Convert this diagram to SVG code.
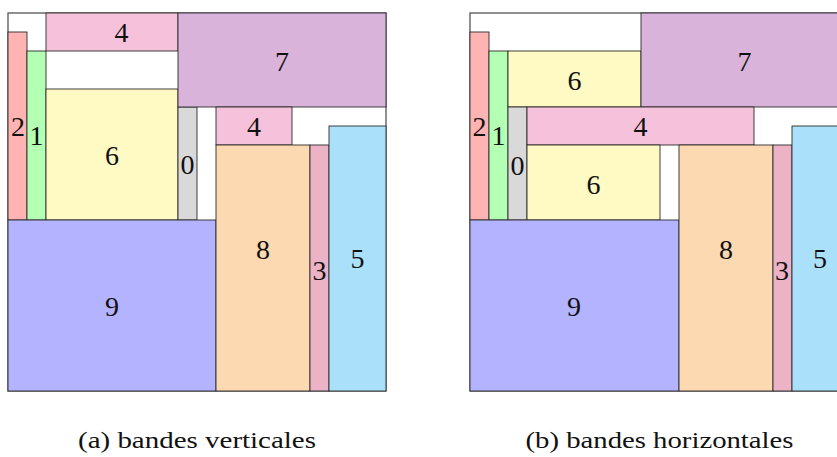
<svg xmlns="http://www.w3.org/2000/svg" width="837" height="457" viewBox="0 0 837 457">
<style>
rect{stroke:#2a2a2a;stroke-width:0.9}
.frame{fill:#fff;stroke:#555;stroke-width:1.3}
text{font-family:"Liberation Serif","Times New Roman",serif;font-size:28px;fill:#111;text-anchor:middle}
.cap{font-size:24px}
.c0{fill:#D9D9D9}.c1{fill:#B3FFB3}.c2{fill:#FFB3B3}.c3{fill:#ECB3C6}.c4{fill:#F6C1DB}
.c5{fill:#ABE0FA}.c6{fill:#FFF9C3}.c7{fill:#D9B3D9}.c8{fill:#FCD9B1}.c9{fill:#B3B3FF}
</style>
<g id="panel-a">
<rect class="frame" x="8" y="13" width="378" height="378"/>
<g id="a-2"><rect class="c2" x="8" y="32" width="19" height="188"/><text x="18" y="135.5">2</text></g>
<g id="a-1"><rect class="c1" x="27" y="51" width="19" height="169"/><text x="36.5" y="144.5">1</text></g>
<g id="a-4top"><rect class="c4" x="46" y="13" width="132" height="38"/><text x="121.5" y="41.5">4</text></g>
<g id="a-6"><rect class="c6" x="46" y="89" width="132" height="131"/><text x="112" y="164.5">6</text></g>
<g id="a-0"><rect class="c0" x="178" y="107" width="19" height="113"/><text x="187.5" y="173.5">0</text></g>
<g id="a-7"><rect class="c7" x="178" y="13" width="208" height="94"/><text x="282" y="70.5">7</text></g>
<g id="a-4"><rect class="c4" x="216" y="107" width="76" height="38"/><text x="254" y="136">4</text></g>
<g id="a-9"><rect class="c9" x="8" y="220" width="208" height="171"/><text x="112" y="316">9</text></g>
<g id="a-8"><rect class="c8" x="216" y="145" width="94" height="246"/><text x="263" y="258.5">8</text></g>
<g id="a-3"><rect class="c3" x="310" y="145" width="19" height="246"/><text x="319.5" y="279.5">3</text></g>
<g id="a-5"><rect class="c5" x="329" y="126" width="57" height="265"/><text x="357.5" y="267.5">5</text></g>
<text id="cap-a" class="cap" x="197" y="448" textLength="238" lengthAdjust="spacingAndGlyphs">(a) bandes verticales</text>
</g>
<g id="panel-b">
<rect class="frame" x="470" y="13" width="378" height="378"/>
<g id="b-2"><rect class="c2" x="470" y="32" width="19" height="188"/><text x="479.5" y="135.5">2</text></g>
<g id="b-1"><rect class="c1" x="489" y="51" width="19" height="169"/><text x="498.5" y="144.5">1</text></g>
<g id="b-6top"><rect class="c6" x="508" y="51" width="133" height="56"/><text x="574.5" y="89.5">6</text></g>
<g id="b-7"><rect class="c7" x="641" y="13" width="207" height="94"/><text x="744.5" y="70.5">7</text></g>
<g id="b-0"><rect class="c0" x="508" y="107" width="19" height="113"/><text x="517.5" y="174.5">0</text></g>
<g id="b-4"><rect class="c4" x="527" y="107" width="227" height="38"/><text x="640.5" y="136">4</text></g>
<g id="b-6"><rect class="c6" x="527" y="145" width="133" height="75"/><text x="593.5" y="193.5">6</text></g>
<g id="b-9"><rect class="c9" x="470" y="220" width="209" height="171"/><text x="574" y="316">9</text></g>
<g id="b-8"><rect class="c8" x="679" y="145" width="94" height="246"/><text x="726" y="258.5">8</text></g>
<g id="b-3"><rect class="c3" x="773" y="145" width="19" height="246"/><text x="782" y="279.5">3</text></g>
<g id="b-5"><rect class="c5" x="792" y="126" width="56" height="265"/><text x="820" y="267.5">5</text></g>
<text id="cap-b" class="cap" x="659.5" y="448" textLength="268" lengthAdjust="spacingAndGlyphs">(b) bandes horizontales</text>
</g>
</svg>
